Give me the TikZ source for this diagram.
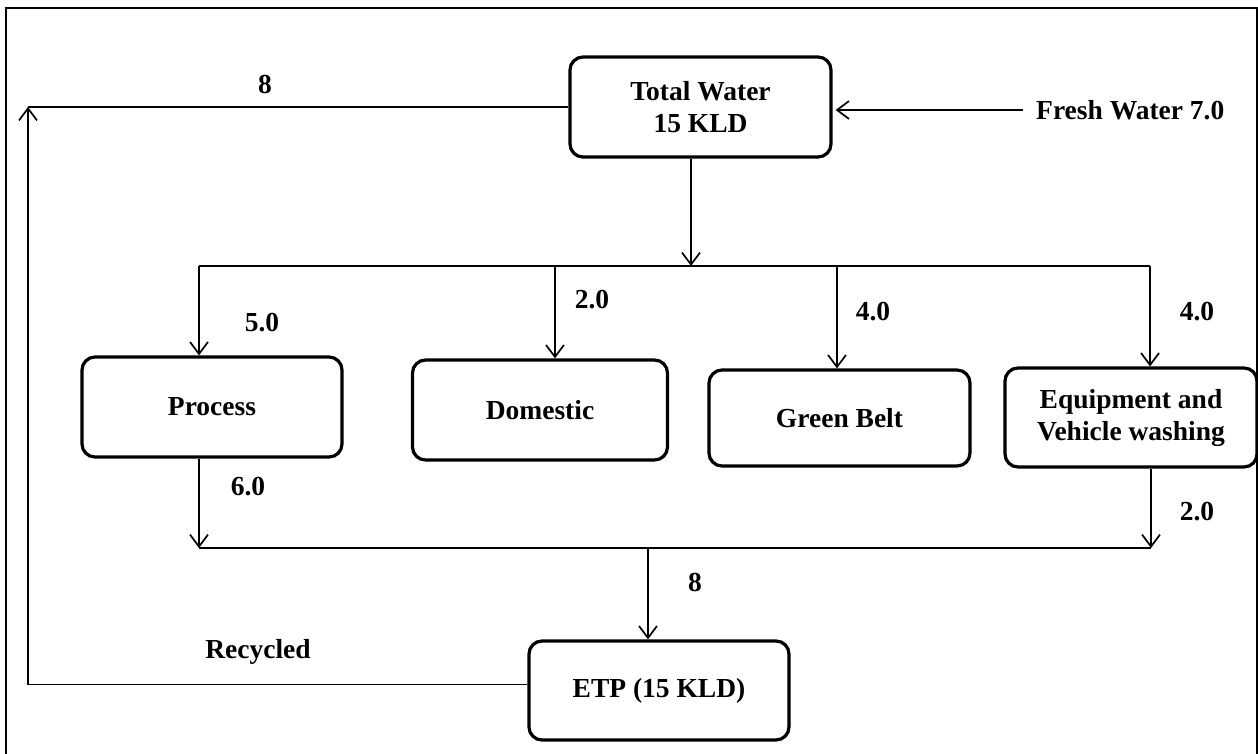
\documentclass[tikz,border=0pt]{standalone}
\usepackage{fontspec}
\setmainfont{Liberation Serif}
\usetikzlibrary{arrows.meta}
\begin{document}
\begin{tikzpicture}[x=1pt,y=-1pt,
  box/.style={draw,line width=3.2pt,rounded corners=13pt,align=center,inner sep=0pt,
    font=\fontsize{27.5}{32}\selectfont\bfseries},
  conn/.style={line width=1.7pt},
  arr/.style={conn,-{Straight Barb[length=12pt,width=18pt,line width=1.7pt]}},
  lbl/.style={font=\fontsize{27.5}{32}\selectfont\bfseries,inner sep=0pt}]
\useasboundingbox (0,0) rectangle (1258,754);
\draw[line width=2pt] (6,760) -- (6,8) -- (1257,8) -- (1257,760);
% boxes
\node[box,minimum width=261pt,minimum height=100pt] (tw) at (700.5,107) {Total Water\\15 KLD};
\node[box,minimum width=260pt,minimum height=100pt] (proc) at (212,407) {Process};
\node[box,minimum width=255pt,minimum height=100pt] (dom) at (540,410) {Domestic};
\node[box,minimum width=261pt,minimum height=96pt] (gb) at (839.5,418) {Green Belt};
\node[box,minimum width=252pt,minimum height=99pt] (eq) at (1131,417.5) {Equipment and\\Vehicle washing};
\node[box,minimum width=260pt,minimum height=99pt] (etp) at (659,690.5) {ETP (15 KLD)};
% fresh water
\node[lbl,anchor=west] (fw) at (1036,110) {Fresh Water 7.0};
\coordinate (fws) at (1023,110);
\draw[arr] (fws) -- ([xshift=3pt]tw.east |- fws);
% top bus
\coordinate (bt) at (691,266);
\coordinate (b1) at (199,266);
\coordinate (b2) at (555,266);
\coordinate (b3) at (837,266);
\coordinate (b4) at (1150,266);
\draw[arr] (tw.south -| bt) -- (bt);
\draw[conn] (b1) -- (b4);
\draw[arr] (b1) -- (b1 |- proc.north);
\draw[arr] (b2) -- (b2 |- dom.north);
\draw[arr] (b3) -- (b3 |- gb.north);
\draw[arr] (b4) -- (b4 |- eq.north);
% bottom bus
\coordinate (c1) at (199,548);
\coordinate (c2) at (1151,548);
\coordinate (cm) at (648,548);
\draw[arr] (c1 |- proc.south) -- (c1);
\draw[arr] (c2 |- eq.south) -- (c2);
\draw[conn] (c1) -- (c2);
\draw[arr] (cm) -- (cm |- etp.north);
% recycle loop
\coordinate (cl) at (28,107);
\draw[conn] (tw.west) -- (cl);
\draw[arr] ([yshift=6pt]etp.west) -| (cl);
% labels
\node[lbl] (l8a) at (265,84) {8};
\node[lbl] (l5) at (262,323) {5.0};
\node[lbl] (l2a) at (592,300) {2.0};
\node[lbl] (l4a) at (873,312) {4.0};
\node[lbl] (l4b) at (1197,312) {4.0};
\node[lbl] (l6) at (248,487) {6.0};
\node[lbl] (l2b) at (1197,512) {2.0};
\node[lbl] (l8b) at (695,582) {8};
\node[lbl] (rec) at (258,652) {Recycled};
\end{tikzpicture}
\end{document}
